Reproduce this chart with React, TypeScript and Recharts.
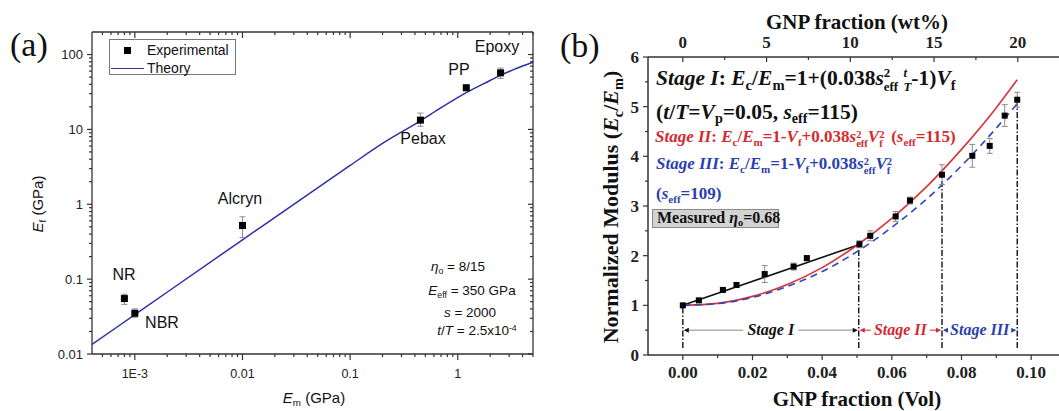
import React from "react";
import {
  ComposedChart,
  Scatter,
  Line,
  XAxis,
  YAxis,
  ErrorBar,
  ReferenceLine,
} from "recharts";

// ---------- panel (a): E_f vs E_m ----------
const MATERIALS = ["NR", "NBR", "Alcryn", "Pebax", "PP", "Epoxy"];
const EM = [0.0008, 0.001, 0.01, 0.45, 1.2, 2.5];
const EF = [0.055, 0.035, 0.52, 13.3, 36, 57];
const EF_ERR: [number, number][] = [
  [0.009, 0.008],
  [0.004, 0.005],
  [0.16, 0.16],
  [2.3, 3.2],
  [3, 3],
  [9, 9],
];

const THEORY_EM = [0.0004, 0.001, 0.01, 0.1, 0.2, 0.45, 0.7, 1.2, 2, 2.5, 3.5, 5];
const THEORY_EF = [0.0134, 0.0335, 0.335, 3.3, 6.5, 13.0, 19.5, 31, 45, 53, 65, 79];

const A_X_MAJOR = [0.001, 0.01, 0.1, 1];
const A_X_MINOR = [
  0.0005, 0.0006, 0.0007, 0.0008, 0.0009,
  0.002, 0.003, 0.004, 0.005, 0.006, 0.007, 0.008, 0.009,
  0.02, 0.03, 0.04, 0.05, 0.06, 0.07, 0.08, 0.09,
  0.2, 0.3, 0.4, 0.5, 0.6, 0.7, 0.8, 0.9,
  2, 3, 4, 5,
];
const A_Y_MAJOR = [0.01, 0.1, 1, 10, 100];
const A_Y_MINOR = [
  0.02, 0.03, 0.04, 0.05, 0.06, 0.07, 0.08, 0.09,
  0.2, 0.3, 0.4, 0.5, 0.6, 0.7, 0.8, 0.9,
  2, 3, 4, 5, 6, 7, 8, 9,
  20, 30, 40, 50, 60, 70, 80, 90,
];

// ---------- panel (b): normalized modulus vs GNP fraction ----------
const VOL = [0, 0.0046, 0.0115, 0.0154, 0.0235, 0.0318, 0.0356, 0.0507, 0.0538, 0.0611, 0.0652, 0.0744, 0.0831, 0.0881, 0.0924, 0.096];
const MOD = [1.0, 1.1, 1.31, 1.41, 1.63, 1.78, 1.95, 2.23, 2.4, 2.79, 3.11, 3.63, 4.01, 4.21, 4.82, 5.14];
const MOD_ERR = [0.03, 0.03, 0.04, 0.05, 0.17, 0.07, 0.05, 0.07, 0.1, 0.1, 0.07, 0.2, 0.23, 0.15, 0.22, 0.15];

const STAGE1_VOL = [0, 0.0505];
const STAGE1_MOD = [1.0, 2.22];
const CURVE_VOL = [0, 0.01, 0.02, 0.03, 0.04, 0.05, 0.06, 0.07, 0.08, 0.09, 0.096];
const STAGE2_MOD = [1.0, 1.04, 1.18, 1.42, 1.76, 2.21, 2.75, 3.39, 4.14, 4.98, 5.54];
const STAGE3_MOD = [1.0, 1.035, 1.16, 1.38, 1.68, 2.08, 2.57, 3.14, 3.81, 4.57, 5.06];

const BOUND_VOL = [0, 0.0505, 0.0744, 0.096];
const BOUND_TOP = [1.0, 2.2, 3.55, 5.08];
const BOUND_BOTTOM = 0.14;
const STAGE_NAMES = ["Stage I", "Stage II", "Stage III"];
const STAGE_Y = 0.5;

const B_X_TICKS = [0, 0.01, 0.02, 0.03, 0.04, 0.05, 0.06, 0.07, 0.08, 0.09, 0.1];
const B_X_MAJOR = [0, 0.02, 0.04, 0.06, 0.08, 0.1];
const B_Y_TICKS = [0, 0.5, 1, 1.5, 2, 2.5, 3, 3.5, 4, 4.5, 5, 5.5, 6];
const B_Y_MAJOR = [0, 1, 2, 3, 4, 5, 6];
const WT_TICKS = [0, 2.5, 5, 7.5, 10, 12.5, 15, 17.5, 20, 22.5];
const WT_MAJOR = [0, 5, 10, 15, 20];
const WT_PER_VOL = 208;
const VOL_DOMAIN = [-0.01, 0.11];

const SANS = "'Liberation Sans', Arial, sans-serif";
const SERIF = "'Liberation Serif', 'Times New Roman', serif";
const AX = "#333";
const BLUE_A = "#2c2fa6";
const RED = "#d6323a";
const BLUE = "#2a48bf";
const RED_TXT = "#d42a30";
const BLUE_TXT = "#2b3fae";

const expA = EM.map((x, i) => ({ x, y: EF[i], err: EF_ERR[i], name: MATERIALS[i] }));
const theoryA = THEORY_EM.map((x, i) => ({ x, y: THEORY_EF[i] }));
const expB = VOL.map((x, i) => ({ x, y: MOD[i], err: MOD_ERR[i] }));
const expBwt = VOL.map((x, i) => ({ wt: x * WT_PER_VOL, y: MOD[i] })); // only anchors the top axis
const stage1 = STAGE1_VOL.map((x, i) => ({ x, y: STAGE1_MOD[i] }));
const stage2 = CURVE_VOL.map((x, i) => ({ x, y: STAGE2_MOD[i] }));
const stage3 = CURVE_VOL.map((x, i) => ({ x, y: STAGE3_MOD[i] }));

const isIn = (list: number[], v: number) =>
  list.some((m) => Math.abs(m - v) <= 1e-9 * Math.abs(m) + 1e-12);

type TickCfg = {
  orient: "x" | "y";
  major: number[];
  majorLen: number; // signed
  minorLen: number; // signed
  label?: (v: number) => string;
  labelOffset?: number;
  fontFamily: string;
  fontSize: number;
  fontWeight?: number;
};

function makeTick(cfg: TickCfg) {
  return (props: any) => {
    const { x, y, payload } = props;
    const v = payload.value;
    const major = isIn(cfg.major, v);
    const len = major ? cfg.majorLen : cfg.minorLen;
    const line =
      cfg.orient === "x" ? (
        <line x1={x} y1={y} x2={x} y2={y + len} stroke={AX} strokeWidth={1.2} />
      ) : (
        <line x1={x} y1={y} x2={x + len} y2={y} stroke={AX} strokeWidth={1.2} />
      );
    let text = null;
    if (major && cfg.label) {
      text =
        cfg.orient === "x" ? (
          <text x={x} y={y + (cfg.labelOffset || 0)} textAnchor="middle" fontFamily={cfg.fontFamily} fontSize={cfg.fontSize} fontWeight={cfg.fontWeight} fill="#222">
            {cfg.label(v)}
          </text>
        ) : (
          <text x={x + (cfg.labelOffset || 0)} y={y} dy="0.35em" textAnchor="end" fontFamily={cfg.fontFamily} fontSize={cfg.fontSize} fontWeight={cfg.fontWeight} fill="#222">
            {cfg.label(v)}
          </text>
        );
    }
    return (
      <g>
        {line}
        {text}
      </g>
    );
  };
}

const fmtLog = (v: number) => (v === 0.001 ? "1E-3" : String(v));

const squareShape = (size: number) => (p: any) =>
  <rect x={p.cx - size / 2} y={p.cy - size / 2} width={size} height={size} fill="#000" />;

function stageArrow(label: string, color: string, lineColor: string, textW: number) {
  return (p: any) => {
    const { x1, x2, y1 } = p;
    const mid = (x1 + x2) / 2;
    const a = mid - textW / 2 - 4;
    const b = mid + textW / 2 + 4;
    const h = 5;
    const w = 2.5;
    return (
      <g>
        <line x1={x1 + 2} y1={y1} x2={a} y2={y1} stroke={lineColor} strokeWidth={1} />
        <line x1={b} y1={y1} x2={x2 - 2} y2={y1} stroke={lineColor} strokeWidth={1} />
        <path d={`M${x1 + 1},${y1} l${h},${-w} v${2 * w} z`} fill={color} />
        <path d={`M${x2 - 1},${y1} l${-h},${-w} v${2 * w} z`} fill={color} />
        <text x={mid} y={y1} dy="0.33em" textAnchor="middle" fontFamily={SERIF} fontWeight={700} fontStyle="italic" fontSize={16} fill={color}>
          {label}
        </text>
      </g>
    );
  };
}

// small text helpers
const Sub = ({ children, s = 0.65, d = 0.35 }: { children: React.ReactNode; s?: number; d?: number }) => (
  <span style={{ fontSize: `${s}em`, position: "relative", top: `${d}em` }}>{children}</span>
);
const Sup = ({ children }: { children: React.ReactNode }) => (
  <span style={{ fontSize: "0.65em", position: "relative", top: "-0.5em" }}>{children}</span>
);
const Stack = ({
  top,
  bottom,
  italic,
  s = 0.62,
  up = 0.7,
  down = 0.45,
}: {
  top: string;
  bottom: string;
  italic?: boolean;
  s?: number;
  up?: number;
  down?: number;
}) => (
  <span style={{ position: "relative", fontSize: `${s}em`, fontStyle: italic ? "italic" : "normal" }}>
    <span style={{ position: "relative", top: `${down}em` }}>{bottom}</span>
    <span style={{ position: "absolute", left: 0, top: `${-up}em` }}>{top}</span>
  </span>
);

const Abs = ({
  x,
  y,
  size,
  family,
  center,
  rotate,
  color,
  bold,
  children,
}: {
  x: number;
  y: number;
  size: number;
  family: string;
  center?: boolean;
  rotate?: boolean;
  color?: string;
  bold?: boolean;
  children: React.ReactNode;
}) => (
  <div
    style={{
      position: "absolute",
      left: x,
      top: y,
      fontFamily: family,
      fontSize: size,
      lineHeight: `${size}px`,
      whiteSpace: "nowrap",
      color: color || "#111",
      fontWeight: bold ? 700 : 400,
      transform: rotate
        ? "translate(-50%,-50%) rotate(-90deg)"
        : center
        ? "translate(-50%,-50%)"
        : "translateY(-50%)",
    }}
  >
    {children}
  </div>
);

function PanelA() {
  const xBottom = makeTick({ orient: "x", major: A_X_MAJOR, majorLen: 6, minorLen: 3, label: fmtLog, labelOffset: 24, fontFamily: SANS, fontSize: 12.5 });
  const xTop = makeTick({ orient: "x", major: A_X_MAJOR, majorLen: 6, minorLen: 3, fontFamily: SANS, fontSize: 12 });
  const yLeft = makeTick({ orient: "y", major: A_Y_MAJOR, majorLen: -5, minorLen: -3, label: (v) => String(v), labelOffset: -9, fontFamily: SANS, fontSize: 13 });
  const yRight = makeTick({ orient: "y", major: A_Y_MAJOR, majorLen: -5, minorLen: -3, fontFamily: SANS, fontSize: 12 });
  const xTicks = [...A_X_MAJOR, ...A_X_MINOR];
  const yTicks = [...A_Y_MAJOR, ...A_Y_MINOR];
  const axisLine = { stroke: AX, strokeWidth: 1.3 };
  return (
    <div style={{ position: "absolute", left: 0, top: 0 }}>
      <ComposedChart width={540} height={411} margin={{ top: 30, right: 5, bottom: 27, left: 0 }}>
        <XAxis dataKey="x" type="number" scale="log" domain={[0.0004, 5]} allowDataOverflow ticks={xTicks} interval={0} tick={xBottom} tickLine={false} tickSize={0} tickMargin={0} height={30} axisLine={axisLine} />
        <XAxis xAxisId="top" dataKey="x" orientation="top" type="number" scale="log" domain={[0.0004, 5]} allowDataOverflow ticks={xTicks} interval={0} tick={xTop} tickLine={false} tickSize={0} tickMargin={0} height={2} axisLine={axisLine} />
        <YAxis dataKey="y" type="number" scale="log" domain={[0.01, 200]} allowDataOverflow ticks={yTicks} interval={0} tick={yLeft} tickLine={false} tickSize={0} tickMargin={0} width={92} axisLine={axisLine} />
        <YAxis yAxisId="right" dataKey="y" orientation="right" type="number" scale="log" domain={[0.01, 200]} allowDataOverflow ticks={yTicks} interval={0} tick={yRight} tickLine={false} tickSize={0} tickMargin={0} width={2} axisLine={axisLine} />
        {/* invisible copy that keeps the mirror axes in use */}
        <Line xAxisId="top" yAxisId="right" data={theoryA} dataKey="y" stroke="none" dot={false} isAnimationActive={false} />
        <Line data={theoryA} dataKey="y" type="monotone" stroke={BLUE_A} strokeWidth={1.5} dot={false} isAnimationActive={false} />
        <Scatter data={expA} dataKey="y" shape={squareShape(7)} isAnimationActive={false}>
          <ErrorBar dataKey="err" direction="y" width={3} stroke="#8c8c8c" strokeWidth={1} />
        </Scatter>
      </ComposedChart>

      <Abs x={10} y={45} size={34} family={SERIF}>(a)</Abs>
      <Abs x={38} y={204} size={15} family={SANS} rotate>
        <i>E</i>
        <Sub>f</Sub> (GPa)
      </Abs>
      <Abs x={314} y={398} size={15} family={SANS} center>
        <i>E</i>
        <Sub>m</Sub> (GPa)
      </Abs>

      {/* legend */}
      <div style={{ position: "absolute", left: 109, top: 39, width: 127, height: 36, border: "1px solid #777", boxSizing: "border-box" }}>
        <div style={{ position: "absolute", left: 14, top: 7, width: 7, height: 7, background: "#000" }} />
        <div style={{ position: "absolute", left: 1, top: 28, width: 33, height: 0, borderTop: `1.5px solid ${BLUE_A}` }} />
      </div>
      <Abs x={147} y={50} size={14} family={SANS}>Experimental</Abs>
      <Abs x={147} y={68} size={14} family={SANS}>Theory</Abs>

      <Abs x={124} y={275} size={16} family={SANS} center>{MATERIALS[0]}</Abs>
      <Abs x={162} y={323} size={16} family={SANS} center>{MATERIALS[1]}</Abs>
      <Abs x={240} y={199} size={16} family={SANS} center>{MATERIALS[2]}</Abs>
      <Abs x={423} y={139} size={16} family={SANS} center>{MATERIALS[3]}</Abs>
      <Abs x={459} y={70} size={16} family={SANS} center>{MATERIALS[4]}</Abs>
      <Abs x={497} y={47} size={16} family={SANS} center>{MATERIALS[5]}</Abs>

      <Abs x={458} y={268} size={13.5} family={SANS} center>
        <i>η</i>
        <Sub>o</Sub> = 8/15
      </Abs>
      <Abs x={472} y={292} size={13.5} family={SANS} center>
        <i>E</i>
        <Sub>eff</Sub> = 350 GPa
      </Abs>
      <Abs x={470} y={313} size={13.5} family={SANS} center>
        <i>s</i> = 2000
      </Abs>
      <Abs x={477} y={332} size={13.5} family={SANS} center>
        <i>t</i>/<i>T</i> = 2.5x10<Sup>-4</Sup>
      </Abs>
    </div>
  );
}

function PanelB() {
  const xBottom = makeTick({ orient: "x", major: B_X_MAJOR, majorLen: 5, minorLen: 3, label: (v) => v.toFixed(2), labelOffset: 23, fontFamily: SERIF, fontSize: 17, fontWeight: 700 });
  const xTop = makeTick({ orient: "x", major: WT_MAJOR, majorLen: 5, minorLen: 3, label: (v) => String(v), labelOffset: -9, fontFamily: SERIF, fontSize: 17, fontWeight: 700 });
  const yLeft = makeTick({ orient: "y", major: B_Y_MAJOR, majorLen: -5, minorLen: -3, label: (v) => String(v), labelOffset: -9, fontFamily: SERIF, fontSize: 17, fontWeight: 700 });
  const axisLine = { stroke: AX, strokeWidth: 1.5 };
  const stageColors = ["#111", RED_TXT, BLUE_TXT];
  const stageLines = ["#888", RED_TXT, BLUE_TXT];
  const stageW = [47, 51, 57];
  return (
    <div style={{ position: "absolute", left: 548, top: 0 }}>
      <ComposedChart width={520} height={411} margin={{ top: 7, right: 2, bottom: 26, left: 0 }}>
        <XAxis dataKey="x" type="number" domain={VOL_DOMAIN} allowDataOverflow ticks={B_X_TICKS} interval={0} tick={xBottom} tickLine={false} tickSize={0} tickMargin={0} height={30} axisLine={axisLine} />
        <XAxis xAxisId="top" dataKey="wt" orientation="top" type="number" domain={[VOL_DOMAIN[0] * WT_PER_VOL, VOL_DOMAIN[1] * WT_PER_VOL]} allowDataOverflow ticks={WT_TICKS} interval={0} tick={xTop} tickLine={false} tickSize={0} tickMargin={0} height={50} axisLine={axisLine} />
        <YAxis dataKey="y" type="number" domain={[0, 6]} allowDataOverflow ticks={B_Y_TICKS} interval={0} tick={yLeft} tickLine={false} tickSize={0} tickMargin={0} width={100} axisLine={axisLine} />

        {STAGE_NAMES.map((name, i) => (
          <ReferenceLine
            key={name}
            segment={[
              { x: BOUND_VOL[i], y: STAGE_Y },
              { x: BOUND_VOL[i + 1], y: STAGE_Y },
            ]}
            stroke="none"
            shape={stageArrow(name, stageColors[i], stageLines[i], stageW[i])}
          />
        ))}
        {BOUND_VOL.map((v, i) => (
          <ReferenceLine
            key={`b${i}`}
            segment={[
              { x: v, y: BOUND_BOTTOM },
              { x: v, y: BOUND_TOP[i] },
            ]}
            stroke="#111"
            strokeWidth={1.4}
            strokeDasharray="6 2 1.5 2"
          />
        ))}

        <Line xAxisId="top" data={expBwt} dataKey="y" stroke="none" dot={false} isAnimationActive={false} />
        <Line data={stage1} dataKey="y" type="linear" stroke="#111" strokeWidth={1.6} dot={false} isAnimationActive={false} />
        <Line data={stage2} dataKey="y" type="monotone" stroke={RED} strokeWidth={1.6} dot={false} isAnimationActive={false} />
        <Line data={stage3} dataKey="y" type="monotone" stroke={BLUE} strokeWidth={1.6} strokeDasharray="7 5" dot={false} isAnimationActive={false} />
        <Scatter data={expB} dataKey="y" shape={squareShape(6)} isAnimationActive={false}>
          <ErrorBar dataKey="err" direction="y" width={3} stroke="#8c8c8c" strokeWidth={1} />
        </Scatter>
      </ComposedChart>
    </div>
  );
}

function PanelBText() {
  const big = 21.5;
  const f = 17;
  return (
    <>
      <Abs x={560} y={46} size={34} family={SERIF}>(b)</Abs>
      <Abs x={857} y={22} size={21} family={SERIF} bold center>GNP fraction (wt%)</Abs>
      <Abs x={857} y={399} size={21} family={SERIF} bold center>GNP fraction (Vol)</Abs>
      <Abs x={612} y={207} size={22} family={SERIF} bold rotate>
        Normalized Modulus (<i>E</i>
        <Sub>c</Sub>/<i>E</i>
        <Sub>m</Sub>)
      </Abs>

      <Abs x={656} y={80} size={big} family={SERIF} bold>
        <i>Stage I</i>: <i>E</i>
        <Sub s={0.68}>c</Sub>/<i>E</i>
        <Sub s={0.68}>m</Sub>=1+(0.038<i>s</i>
        <Stack top="2" bottom="eff" s={0.6} up={0.85} down={0.5} />
        {" "}
        <Stack top="t" bottom="T" italic s={0.6} up={0.85} down={0.5} />
        -1)<i>V</i>
        <Sub s={0.68}>f</Sub>
      </Abs>
      <Abs x={656} y={114} size={big} family={SERIF} bold>
        (<i>t</i>/<i>T</i>=<i>V</i>
        <Sub s={0.66} d={0.25}>p</Sub>=0.05, <i>s</i>
        <Sub s={0.66} d={0.25}>eff</Sub>=115)
      </Abs>
      <Abs x={655} y={137} size={f} family={SERIF} bold color={RED_TXT}>
        <i>Stage II</i>: <i>E</i>
        <Sub>c</Sub>/<i>E</i>
        <Sub>m</Sub>=1-<i>V</i>
        <Sub>f</Sub>+0.038<i>s</i>
        <Stack top="2" bottom="eff" />
        <i>V</i>
        <Stack top="2" bottom="f" />
        {"\u00a0\u00a0"}(<i>s</i>
        <Sub>eff</Sub>=115)
      </Abs>
      <Abs x={656} y={164} size={f} family={SERIF} bold color={BLUE_TXT}>
        <i>Stage III</i>: <i>E</i>
        <Sub>c</Sub>/<i>E</i>
        <Sub>m</Sub>=1-<i>V</i>
        <Sub>f</Sub>+0.038<i>s</i>
        <Stack top="2" bottom="eff" />
        <i>V</i>
        <Stack top="2" bottom="f" />
      </Abs>
      <Abs x={656} y={194} size={f} family={SERIF} bold color={BLUE_TXT}>
        (<i>s</i>
        <Sub>eff</Sub>=109)
      </Abs>
      <div
        style={{
          position: "absolute",
          left: 652,
          top: 209,
          width: 127,
          height: 19,
          background: "#d3d3d3",
          border: "1px solid #8a8a8a",
          boxSizing: "border-box",
        }}
      />
      <Abs x={657} y={218.5} size={16} family={SERIF} bold>
        Measured <i>η</i>
        <Sub>o</Sub>=0.68
      </Abs>
    </>
  );
}

export default function App() {
  return (
    <div
      style={{
        position: "absolute",
        left: 0,
        top: 0,
        width: 1059,
        height: 411,
        overflow: "hidden",
        background: "#fff",
      }}
    >
      <PanelA />
      <PanelB />
      <PanelBText />
    </div>
  );
}
